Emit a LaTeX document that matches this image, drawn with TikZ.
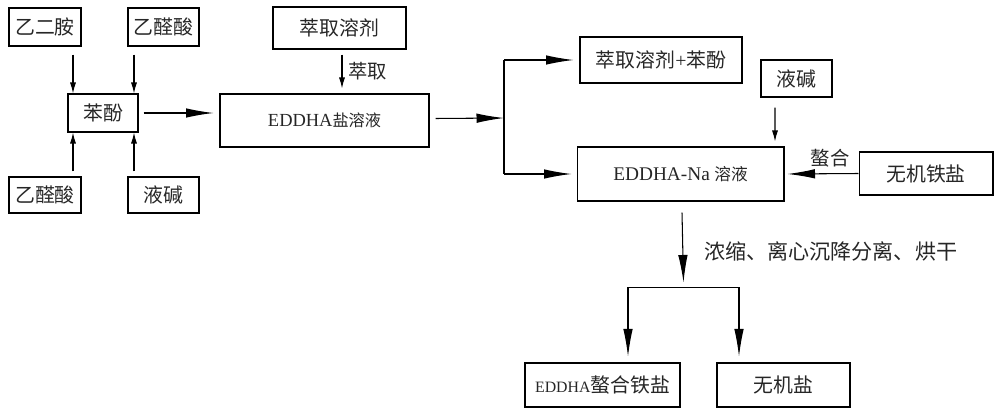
\documentclass[tikz,border=0pt]{standalone}
\usepackage{fontspec}
\setmainfont{Liberation Serif}
\newfontfamily\cjk{Noto Sans CJK SC}
\newcommand{\lat}[1]{{\rmfamily #1}}
\usetikzlibrary{calc,positioning,arrows.meta}

\begin{document}
\begin{tikzpicture}[x=0.02cm,y=-0.02cm,line width=0.6pt,
    box/.style={draw,inner sep=0pt,text=black!85,font=\fontsize{11.3}{13}\selectfont\cjk},
    feed/.style={-{Latex[length=0.22cm,width=0.12cm]}},
    flow/.style={-{Latex[length=0.55cm,width=0.19cm]}}]
  \useasboundingbox (0,0) rectangle (1000,415);

  % raw materials round phenol
  \node[box,minimum width=1.44cm,minimum height=0.76cm] (e1) at (45,27) {乙二胺};
  \node[box,minimum width=1.42cm,minimum height=0.76cm] (g1) at (163.5,27) {乙醛酸};
  \node[box,minimum width=1.40cm,minimum height=0.76cm] (ph) at (103,113) {苯酚};
  \node[box,minimum width=1.44cm,minimum height=0.72cm] (g2) at (45,195) {乙醛酸};
  \node[box,minimum width=1.42cm,minimum height=0.72cm] (na1) at (163.5,195) {液碱};

  \node[box,minimum width=2.66cm,minimum height=0.84cm] (ext) at (339.5,28) {萃取溶剂};
  \node[box,minimum width=4.18cm,minimum height=1.06cm] (salt) at (324.5,120.5)
    {\lat{\fontsize{10.5}{12}\selectfont EDDHA}{\fontsize{9.2}{11}\selectfont 盐溶液}};

  \node[box,minimum width=3.24cm,minimum height=0.92cm] (rec) at (661,60) {萃取溶剂\lat{+}苯酚};
  \node[box,minimum width=1.42cm,minimum height=0.74cm] (na2) at (796.5,78.5) {液碱};
  \node[box,minimum width=4.14cm,minimum height=1.08cm] (edna) at (680.5,174)
    {\lat{\fontsize{11}{13}\selectfont EDDHA-Na} {\fontsize{9.5}{11}\selectfont 溶液}};
  \node[box,minimum width=2.68cm,minimum height=0.86cm] (fe) at (926,173.5) {无机铁盐};

  \node[box,minimum width=3.10cm,minimum height=0.88cm] (chel) at (602.5,385)
    {\lat{\fontsize{9}{11}\selectfont EDDHA}螯合铁盐};
  \node[box,minimum width=2.66cm,minimum height=0.88cm] (inorg) at (783.5,385) {无机盐};

  \draw[feed] ($(e1.south)+(28,8)$) -- ($(ph.north)+(-30,0)$);
  \draw[feed] ($(g1.south)+(-29.5,8)$) -- ($(ph.north)+(31,0)$);
  \draw[feed] ($(g2.north)+(28,-5)$) -- ($(ph.south)+(-30,0)$);
  \draw[feed] ($(na1.north)+(-29.5,-5)$) -- ($(ph.south)+(31,0)$);
  \draw[flow] ($(ph.east)+(5,0)$) -- ($(ph.east -| salt.west)+(-6,0)$);
  \draw[feed] ($(ext.south)+(2.5,5)$) -- ($(salt.north)+(17.5,-5)$)
    node[midway,right,text=black!85,font=\fontsize{11}{13}\selectfont\cjk] {萃取};

  % split after extraction
  \coordinate (spl) at (504,118);
  \draw[flow] ($(salt.east)+(6,-2)$) -- (spl);
  \draw (spl |- rec.west) -- (spl |- edna.west);
  \draw[flow] (spl |- rec.west) -- ($(rec.west)+(-6,0)$);
  \draw[flow] (spl |- edna.west) -- ($(edna.west)+(-5,0)$);
  \draw[feed] ($(na2.south)+(-21.5,10)$) -- ($(edna.north)+(94.5,-5)$);
  \draw[flow] (fe.west) -- ($(edna.east)+(3,0)$)
    node[pos=0.4,above,text=black!85,font=\fontsize{11}{13}\selectfont\cjk] {螯合};

  % separation of the products
  \coordinate (b1) at ($(chel.north)+(25.5,-75)$);
  \coordinate (b2) at ($(inorg.north)+(-44.5,-75)$);
  \draw (b1) -- (b2);
  \draw[flow] ($(edna.south)+(1.5,11)$) -- ($($(b1)!0.5!(b2)$)+(0,-5)$)
    node[pos=0.55,right=0.3cm,text=black!85,font=\fontsize{12}{14}\selectfont\cjk] {浓缩、离心沉降分离、烘干};
  \draw[flow] (b1) -- ($(chel.north)+(25.5,-6)$);
  \draw[flow] (b2) -- ($(inorg.north)+(-44.5,-6)$);
\end{tikzpicture}
\end{document}
